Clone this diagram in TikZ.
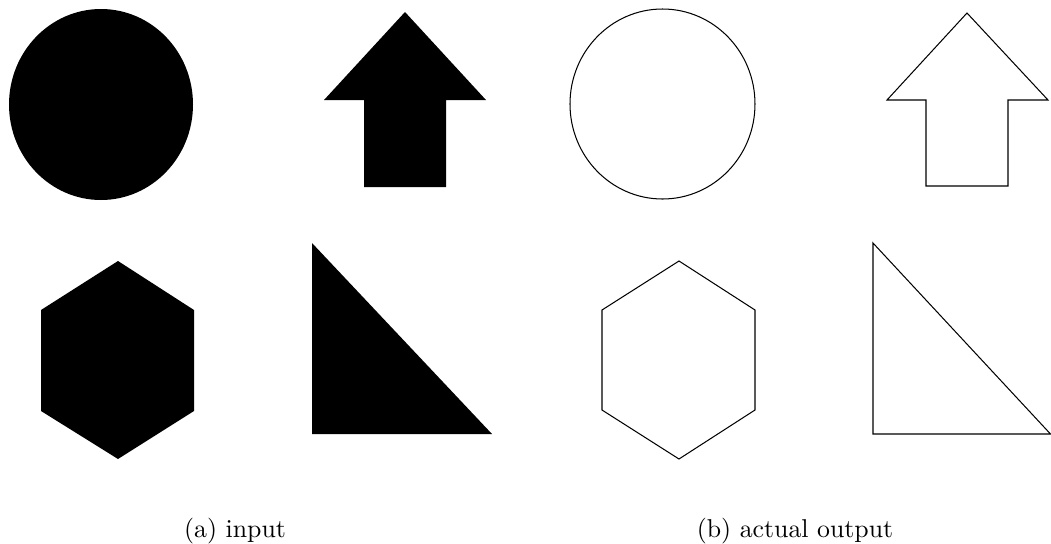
\documentclass[tikz,border=0pt]{standalone}
\usepackage{tikz}
\usetikzlibrary{positioning}
\definecolor{shapeink}{HTML}{000000}

\begin{document}
\begin{tikzpicture}[
  x=0.01362cm,y=-0.01362cm,
  solid/.style={fill=shapeink,draw=none},
  outline/.style={draw=shapeink,line width=0.4pt,line join=miter},
  caption/.style={font=\normalsize,anchor=base,inner sep=0pt}
]
\useasboundingbox (0,0) rectangle (1051,544);
% filled shapes
\fill[solid] (101,104.5) ellipse [x radius=92,y radius=95.5];
\fill[solid] (405,12) -- (486,100) -- (446,100) -- (446,187) -- (364,187) -- (364,100) -- (324,100) -- cycle;
\fill[solid] (118,261) -- (194,310) -- (194,411) -- (118,459) -- (41,411) -- (41,310) -- cycle;
\fill[solid] (312,243) -- (312,434) -- (492,434) -- cycle;
% traced outlines
\draw[outline] (662.5,104) ellipse [x radius=92.5,y radius=95];
\draw[outline] (967,13) -- (1048,100) -- (1008,100) -- (1008,186) -- (926,186) -- (926,100) -- (887,100) -- cycle;
\draw[outline] (679,261) -- (755,310) -- (755,410) -- (679,459) -- (602,410) -- (602,310) -- cycle;
\draw[outline] (873,243) -- (873,434) -- (1050.5,434) -- cycle;
% sub captions
\node[caption] (capin) at (235,537) {(a) input};
\node[caption] (capout) at (795,537) {(b) actual output};
\end{tikzpicture}
\end{document}
